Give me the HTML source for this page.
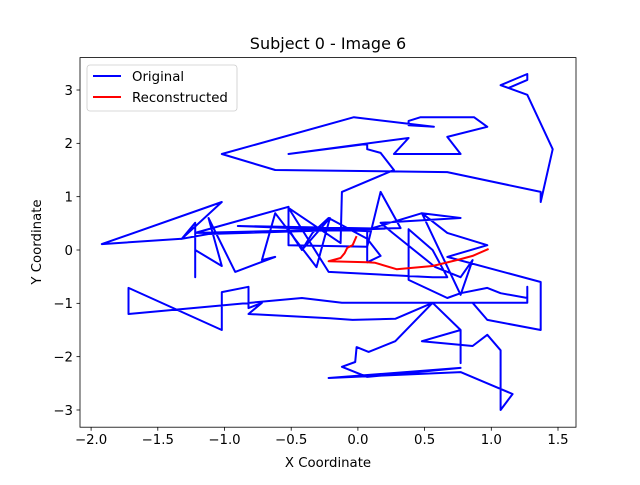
<!DOCTYPE html>
<html><head><meta charset="utf-8"><style>
body{margin:0;background:#fff}
svg text{font-family:"DejaVu Sans","Liberation Sans",sans-serif;fill:#000}
</style></head><body>
<svg id="chart" width="640" height="480" xmlns="http://www.w3.org/2000/svg">
<rect width="640" height="480" fill="#fff"/>
<g id="plot"></g>
</svg>
<script>
const origX=[1.13,1.27,1.27,1.07,1.27,1.46,1.37,1.37,0.67,-0.62,-1.02,-0.03,0.57,0.38,0.38,0.47,0.87,0.97,0.67,0.77,0.27,0.38,-0.52,0.07,0.07,0.17,0.27,-0.12,-0.13,-0.52,-0.22,0.56,0.67,0.56,0.38,0.38,0.67,0.77,0.97,1.07,1.27,1.27,1.27,-0.12,-0.42,-1.72,-1.72,-1.02,-1.02,-0.82,-0.82,-0.72,-0.82,-0.21,-0.04,0.28,0.56,0.77,0.77,0.77,0.48,0.86,0.97,1.07,1.07,1.16,0.77,-0.22,0.77,0.07,-0.12,-0.02,-0.01,0.08,0.28,0.56,0.86,0.97,1.37,1.37,0.67,0.97,0.67,0.48,0.77,0.86,0.77,0.58,0.26,0.17,0.77,0.48,0.07,0.07,0.17,0.07,-0.22,-0.34,-0.42,-0.52,-0.52,-1.22,0.32,0.17,0.07,-0.52,-0.52,-0.42,-0.21,-0.31,-0.62,-0.72,-0.62,-0.92,-1.12,-1.02,-1.22,-1.22,-1.22,-1.32,-1.02,-1.92,-1.32,-1.12,0.20,-0.90,0.10];
const origY=[3.04,3.19,3.30,3.09,2.91,1.89,0.90,1.09,1.46,1.50,1.80,2.49,2.31,2.34,2.42,2.49,2.49,2.31,2.12,1.80,1.80,2.10,1.80,1.99,1.89,1.82,1.50,1.09,0.13,0.79,-0.41,-0.51,-0.51,0,0.39,-0.56,-0.90,-0.81,-0.71,-0.81,-0.90,-0.69,-0.99,-0.99,-0.90,-1.20,-0.71,-1.50,-0.79,-0.69,-1.09,-0.99,-1.20,-1.28,-1.31,-1.29,-0.99,-1.50,-2.12,-1.50,-1.71,-1.80,-1.59,-1.88,-3.00,-2.70,-2.29,-2.40,-2.21,-2.38,-2.19,-2.10,-1.82,-1.91,-1.71,-0.99,-0.99,-1.31,-1.50,-0.60,-0.13,0.09,0.32,0.69,-0.84,-0.19,-0.51,-0.32,0.32,0.51,0.60,0.69,0.38,-0.23,-0.11,0.21,0.60,0.32,0,0.38,0.81,0.32,0.41,1.09,0.06,0.09,0.39,0,0.60,-0.32,0.69,-0.19,-0.13,-0.41,0.60,-0.30,0,-0.51,0.51,0.21,0.90,0.11,0.21,0.30,0.40,0.45,0.35];
const recX=[-0.01,-0.04,-0.08,-0.10,-0.13,-0.22,0.07,0.13,0.29,0.56,0.77,0.86,0.98];
const recY=[0.26,0.09,0.04,-0.06,-0.15,-0.21,-0.23,-0.24,-0.36,-0.30,-0.17,-0.11,0.02];
const xTicks=[-2.0,-1.5,-1.0,-0.5,0.0,0.5,1.0,1.5];
const yTicks=[-3,-2,-1,0,1,2,3];

const L=80,R=576,T=57.6,B=427.2;
const sx=v=>357.9+v*133.4;
const sy=v=>250-v*53.33;
const NS="http://www.w3.org/2000/svg";
const g=document.getElementById('plot');
function mk(tag,attrs,parent){const e=document.createElementNS(NS,tag);for(const k in attrs)e.setAttribute(k,attrs[k]);(parent||g).appendChild(e);return e;}

const clip=mk('clipPath',{id:'cp'});mk('rect',{x:L,y:T,width:R-L,height:B-T},clip);

function line(xs,ys,color,name){
  const p=mk('polyline',{points:xs.map((x,i)=>sx(x).toFixed(1)+','+sy(ys[i]).toFixed(1)).join(' '),fill:'none',stroke:color,'stroke-width':2,'stroke-linejoin':'round','clip-path':'url(#cp)'});
  
  
}
line(origX,origY,'#0000ff','original-series');
line(recX,recY,'#ff0000','reconstructed-series');

const frame=mk('rect',{x:L,y:T,width:R-L,height:B-T,fill:'none',stroke:'#000','stroke-width':0.8});



xTicks.forEach(v=>{
  const x=sx(v);
  mk('line',{x1:x,x2:x,y1:B,y2:B+3.5,stroke:'#000','stroke-width':0.8});
  const t=mk('text',{x:x,y:B+17,'text-anchor':'middle','font-size':13.3});
  t.textContent=v.toFixed(1).replace('-','−');
  
  
});
yTicks.forEach(v=>{
  const y=sy(v);
  mk('line',{x1:L,x2:L-3.5,y1:y,y2:y,stroke:'#000','stroke-width':0.8});
  const t=mk('text',{x:L-7,y:y+4.8,'text-anchor':'end','font-size':13.3});
  t.textContent=String(v).replace('-','−');
  
  
});

const title=mk('text',{x:328,y:49,'text-anchor':'middle','font-size':16});
title.textContent='Subject 0 - Image 6';


const xl=mk('text',{x:328,y:467,'text-anchor':'middle','font-size':13.3});
xl.textContent='X Coordinate';


const yl=mk('text',{x:0,y:0,'text-anchor':'middle','font-size':13.3,transform:'translate(41,242) rotate(-90)'});
yl.textContent='Y Coordinate';



const lg=mk('g',{});


mk('rect',{x:87,y:65,width:150,height:46,rx:3,fill:'#fff','fill-opacity':0.8,stroke:'#ccc','stroke-width':0.8},lg);
const items=[['Original','#0000ff',76],['Reconstructed','#ff0000',97]];
items.forEach(it=>{
  const e=mk('g',{},lg);
  
  
  mk('line',{x1:93,x2:121,y1:it[2],y2:it[2],stroke:it[1],'stroke-width':2},e);
  const t=mk('text',{x:132,y:it[2]+4.8,'font-size':13.3},e);
  t.textContent=it[0];
});
</script>
</body></html>
